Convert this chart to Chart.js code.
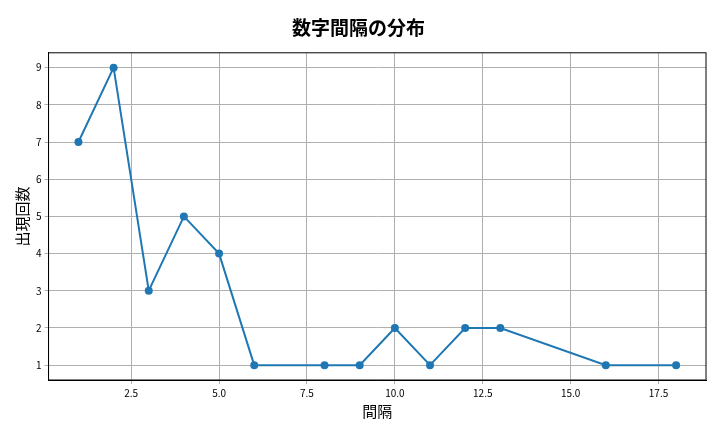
<!DOCTYPE html>
<html>
<head>
<meta charset="utf-8">
<script src="https://cdn.jsdelivr.net/npm/chart.js@4"></script>
<style>
  body { margin: 0; background: #fff; }
  #wrap { width: 720px; height: 432px; }
</style>
</head>
<body>
<div id="wrap"><canvas id="c" width="720" height="432"></canvas></div>
<script>
const gaps = [1, 2, 3, 4, 5, 6, 8, 9, 10, 11, 12, 13, 16, 18];
const counts = [7, 9, 3, 5, 4, 1, 1, 1, 2, 1, 2, 2, 1, 1];
const xTicks = [2.5, 5.0, 7.5, 10.0, 12.5, 15.0, 17.5];

const font = "'Noto Sans CJK JP', 'Noto Sans', sans-serif";
Chart.defaults.font.family = font;
Chart.defaults.color = '#000';

// full frame around the plot area
const frame = {
  id: 'frame',
  afterDraw(chart) {
    const { ctx, chartArea: a } = chart;
    ctx.save();
    ctx.strokeStyle = '#000';
    ctx.lineWidth = 1;
    ctx.strokeRect(a.left, a.top, a.right - a.left, a.bottom - a.top);
    ctx.restore();
  }
};

new Chart(document.getElementById('c'), {
  type: 'line',
  data: {
    datasets: [{
      data: gaps.map((g, i) => ({ x: g, y: counts[i] })),
      borderColor: '#1f77b4',
      backgroundColor: '#1f77b4',
      borderWidth: 2,
      pointRadius: 3,
      tension: 0
    }]
  },
  options: {
    responsive: false,
    animation: false,
    layout: { padding: { left: 11, right: 14, top: 8, bottom: 12 } },
    plugins: {
      legend: { display: false },
      title: { display: true, text: '数字間隔の分布', font: { size: 19, weight: 'bold' }, padding: { top: 8, bottom: 14 } }
    },
    scales: {
      x: {
        type: 'linear', min: 0.15, max: 18.85,
        afterBuildTicks: s => { s.ticks = xTicks.map(v => ({ value: v })); },
        ticks: { font: { size: 10 }, callback: v => v.toFixed(1) },
        grid: { color: '#b0b0b0', tickLength: 4 },
        border: { color: '#000' },
        title: { display: true, text: '間隔', font: { size: 15 }, padding: 0 }
      },
      y: {
        min: 0.6, max: 9.4,
        afterBuildTicks: s => { s.ticks = [1,2,3,4,5,6,7,8,9].map(v => ({ value: v })); },
        ticks: { font: { size: 10 } },
        grid: { color: '#b0b0b0', tickLength: 4 },
        border: { color: '#000' },
        title: { display: true, text: '出現回数', font: { size: 15 }, padding: 2 }
      }
    }
  },
  plugins: [frame]
});
</script>
</body>
</html>
